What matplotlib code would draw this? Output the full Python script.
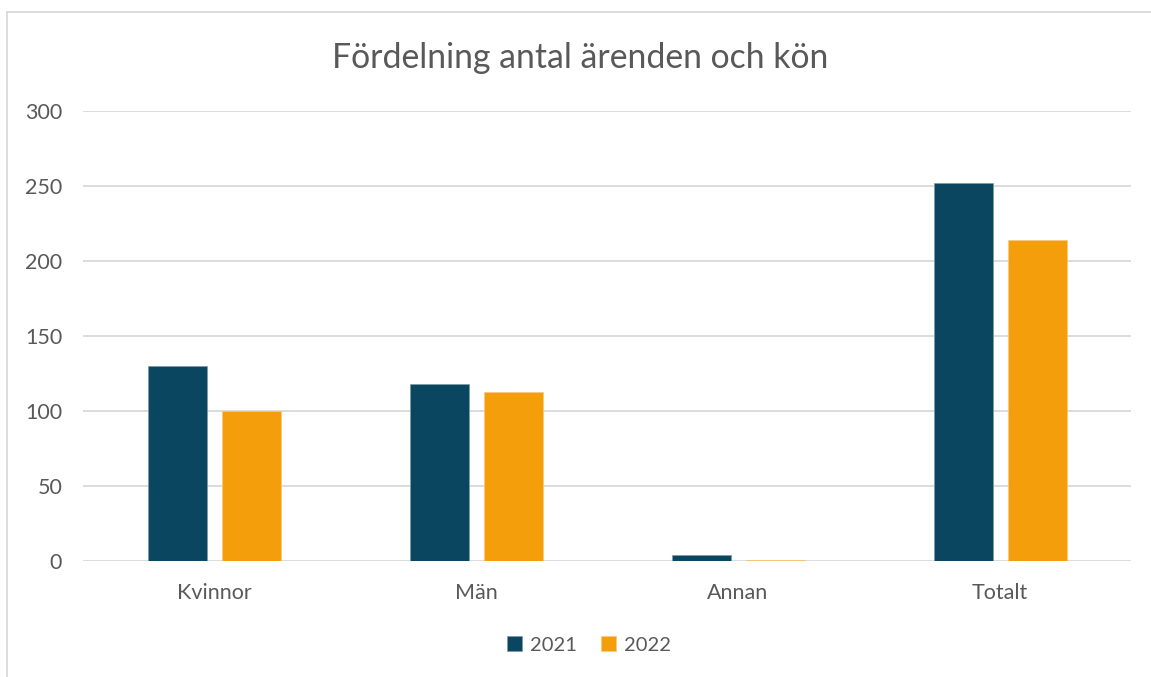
import numpy as np
import matplotlib.pyplot as plt
from matplotlib.lines import Line2D

# Data
categories = ['Kvinnor', 'Män', 'Annan', 'Totalt']
values_2021 = [130, 118, 4, 252]
values_2022 = [100, 113, 1, 214]
series_labels = ['2021', '2022']

c2021 = '#0A4660'
c2022 = '#F59E0B'
text_col = '#595959'

plt.rcParams['font.family'] = ['Lato', 'DejaVu Sans']

fig = plt.figure(figsize=(11.51, 6.77), dpi=100)
ax = fig.add_axes([83/1151, 1 - 561/677, (1131 - 83)/1151, (561 - 111)/677])

x = np.arange(len(categories))
w = 0.225
ax.bar(x - 0.139, values_2021, w, color=c2021, edgecolor='#7f9aa8', linewidth=0.5,
       label=series_labels[0], zorder=3)
ax.bar(x + 0.143, values_2022, w, color=c2022, edgecolor='#f8c97a', linewidth=0.5,
       label=series_labels[1], zorder=3)

ax.set_xlim(-0.5, 3.5)
ax.set_ylim(0, 300)
ax.set_yticks(np.arange(0, 301, 50))
ax.set_xticks(x)
ax.set_xticklabels(categories)
ax.tick_params(axis='both', length=0, labelsize=15.5, colors=text_col)
ax.tick_params(axis='y', pad=15)
ax.tick_params(axis='x', pad=16)
ax.grid(axis='y', color='#D9D9D9', linewidth=1.3, zorder=0)
for s in ax.spines.values():
    s.set_visible(False)

ax.set_title('Fördelning antal ärenden och kön', fontsize=24.3, color=text_col,
             pad=31, x=0.474)

ax.legend(loc='center', bbox_to_anchor=(589/1151, 1 - 645/677), bbox_transform=fig.transFigure,
          ncol=2, frameon=False, fontsize=14.5, labelcolor=text_col,
          handlelength=0.75, handleheight=0.75, handletextpad=0.4, columnspacing=1.2)

# outer chart frame (left and top edges visible)
fig.add_artist(Line2D([7/1151, 7/1151], [0, 1 - 12/677], color='#D9D9D9', linewidth=1.3))
fig.add_artist(Line2D([7/1151, 1], [1 - 12/677, 1 - 12/677], color='#D9D9D9', linewidth=1.3))

fig.savefig('out.png', dpi=100)
